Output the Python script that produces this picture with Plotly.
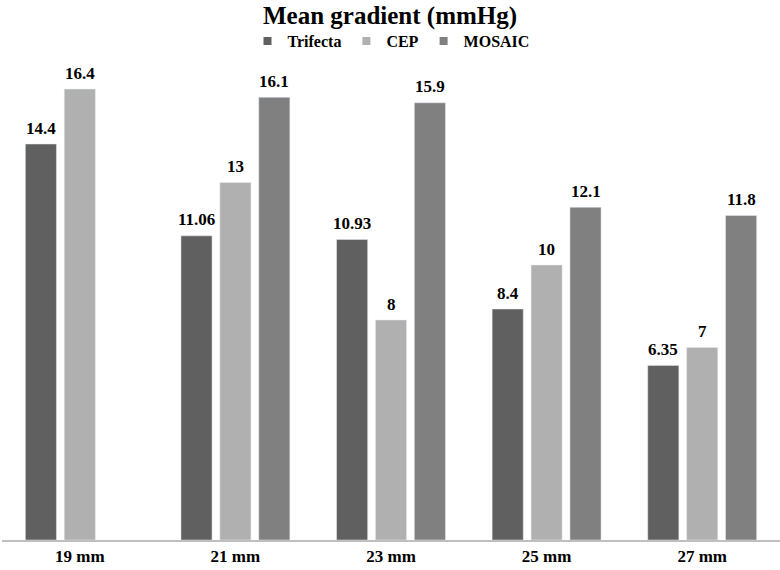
import plotly.graph_objects as go

categories = ["19 mm", "21 mm", "23 mm", "25 mm", "27 mm"]
trifecta = [14.4, 11.06, 10.93, 8.4, 6.35]
cep = [16.4, 13, 8, 10, 7]
mosaic = [None, 16.1, 15.9, 12.1, 11.8]
series_names = ["Trifecta", "CEP", "MOSAIC"]
colors = ["#606060", "#b0b0b0", "#808080"]

font_family = "Liberation Serif, Times New Roman, serif"
slot_px = 778 / len(categories) * (1 - 0.25) / 3

fig = go.Figure()
for i, (name, vals, col) in enumerate(zip(series_names, [trifecta, cep, mosaic], colors)):
    fig.add_trace(go.Bar(
        name=name, x=categories, y=vals, marker_color=col, showlegend=False,
    ))
    # legend entry with small square marker
    fig.add_trace(go.Scatter(
        name=f"<b>{name}</b>", x=[None], y=[None], mode="markers",
        marker=dict(symbol="square", size=8, color=col),
    ))
    for c, v in zip(categories, vals):
        if v is None:
            continue
        fig.add_annotation(
            x=c, y=v, text=f"<b>{v:g}</b>", showarrow=False,
            xshift=(i - 1) * slot_px, yshift=16, yanchor="middle",
            font=dict(family=font_family, size=17, color="#000000"),
        )

fig.update_layout(
    width=780, height=570,
    margin=dict(l=2, r=0, t=45, b=30, autoexpand=False),
    paper_bgcolor="white", plot_bgcolor="white",
    barmode="group", bargap=0.25, bargroupgap=0.2,
    font=dict(family=font_family, color="#000000"),
    title=dict(text="<b>Mean gradient (mmHg)</b>", x=0.5, xanchor="center",
               y=1 - 15 / 570, yanchor="middle",
               font=dict(family=font_family, size=25, color="#000000")),
    legend=dict(orientation="h", x=0.5, xanchor="center", yref="container",
                y=1 - 41 / 570, yanchor="middle",
                font=dict(family=font_family, size=16, color="#000000"),
                itemwidth=30, tracegroupgap=0, traceorder="normal"),
)
fig.update_xaxes(showline=True, linecolor="#bfbfbf", linewidth=2, ticks="",
                 tickfont=dict(family=font_family, size=17, color="#000000"),
                 tickprefix="<b>", ticksuffix="</b>")
fig.update_yaxes(range=[0, 18], showgrid=False, showticklabels=False,
                 zeroline=False, showline=False)

fig.write_html("out.html", config={"displayModeBar": False},
               post_script="document.body.style.margin='0';")
